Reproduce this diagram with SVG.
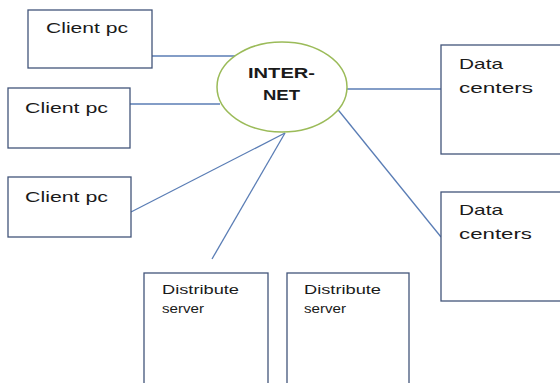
<svg xmlns="http://www.w3.org/2000/svg" width="560" height="383" viewBox="0 0 560 383">
<style>
.box{fill:#fff;stroke:#42557a;stroke-width:1.3}
.ln{stroke:#5a7db5;stroke-width:1.3;fill:none}
.t{font-family:"Liberation Sans",Arial,sans-serif;font-size:15px;fill:#1a1a1a}
.b{font-weight:bold}
</style>
<rect width="560" height="383" fill="#fff"/>
<g id="connectors">
<line class="ln" x1="152" y1="56" x2="236" y2="56"/>
<line class="ln" x1="130" y1="104" x2="220" y2="104"/>
<line class="ln" x1="347" y1="89" x2="441" y2="89"/>
<line class="ln" x1="335" y1="106" x2="441" y2="237"/>
<line class="ln" x1="131" y1="212" x2="285" y2="133"/>
<line class="ln" x1="212" y1="259" x2="285" y2="133"/>
</g>
<g id="client1"><rect class="box" x="28" y="10" width="124" height="58"/><text class="t" x="46" y="33" textLength="82" lengthAdjust="spacingAndGlyphs">Client pc</text></g>
<g id="client2"><rect class="box" x="8" y="88" width="122" height="60"/><text class="t" x="25" y="113" textLength="83" lengthAdjust="spacingAndGlyphs">Client pc</text></g>
<g id="client3"><rect class="box" x="8" y="177" width="123" height="60"/><text class="t" x="25" y="202" textLength="83" lengthAdjust="spacingAndGlyphs">Client pc</text></g>
<g id="internet"><ellipse cx="282" cy="87" rx="65" ry="45" fill="#fff" stroke="#9bbb59" stroke-width="1.5"/><text class="t b" x="248" y="78" textLength="67" lengthAdjust="spacingAndGlyphs">INTER-</text><text class="t b" x="263" y="100" textLength="37" lengthAdjust="spacingAndGlyphs">NET</text></g>
<g id="dc1"><rect class="box" x="441" y="45" width="125" height="109"/><text class="t" x="459" y="69" textLength="44" lengthAdjust="spacingAndGlyphs">Data</text><text class="t" x="459" y="93" textLength="74" lengthAdjust="spacingAndGlyphs">centers</text></g>
<g id="dc2"><rect class="box" x="441" y="192" width="125" height="109"/><text class="t" x="459" y="215" textLength="44" lengthAdjust="spacingAndGlyphs">Data</text><text class="t" x="459" y="239" textLength="73" lengthAdjust="spacingAndGlyphs">centers</text></g>
<g id="ds1"><rect class="box" x="144" y="273" width="124" height="120"/><text class="t" x="162" y="294" font-size="13" style="font-size:13px" textLength="77" lengthAdjust="spacingAndGlyphs">Distribute</text><text class="t" x="162" y="313" style="font-size:13px" textLength="42" lengthAdjust="spacingAndGlyphs">server</text></g>
<g id="ds2"><rect class="box" x="287" y="273" width="122" height="120"/><text class="t" x="304" y="294" style="font-size:13px" textLength="77" lengthAdjust="spacingAndGlyphs">Distribute</text><text class="t" x="304" y="313" style="font-size:13px" textLength="42" lengthAdjust="spacingAndGlyphs">server</text></g>
</svg>
